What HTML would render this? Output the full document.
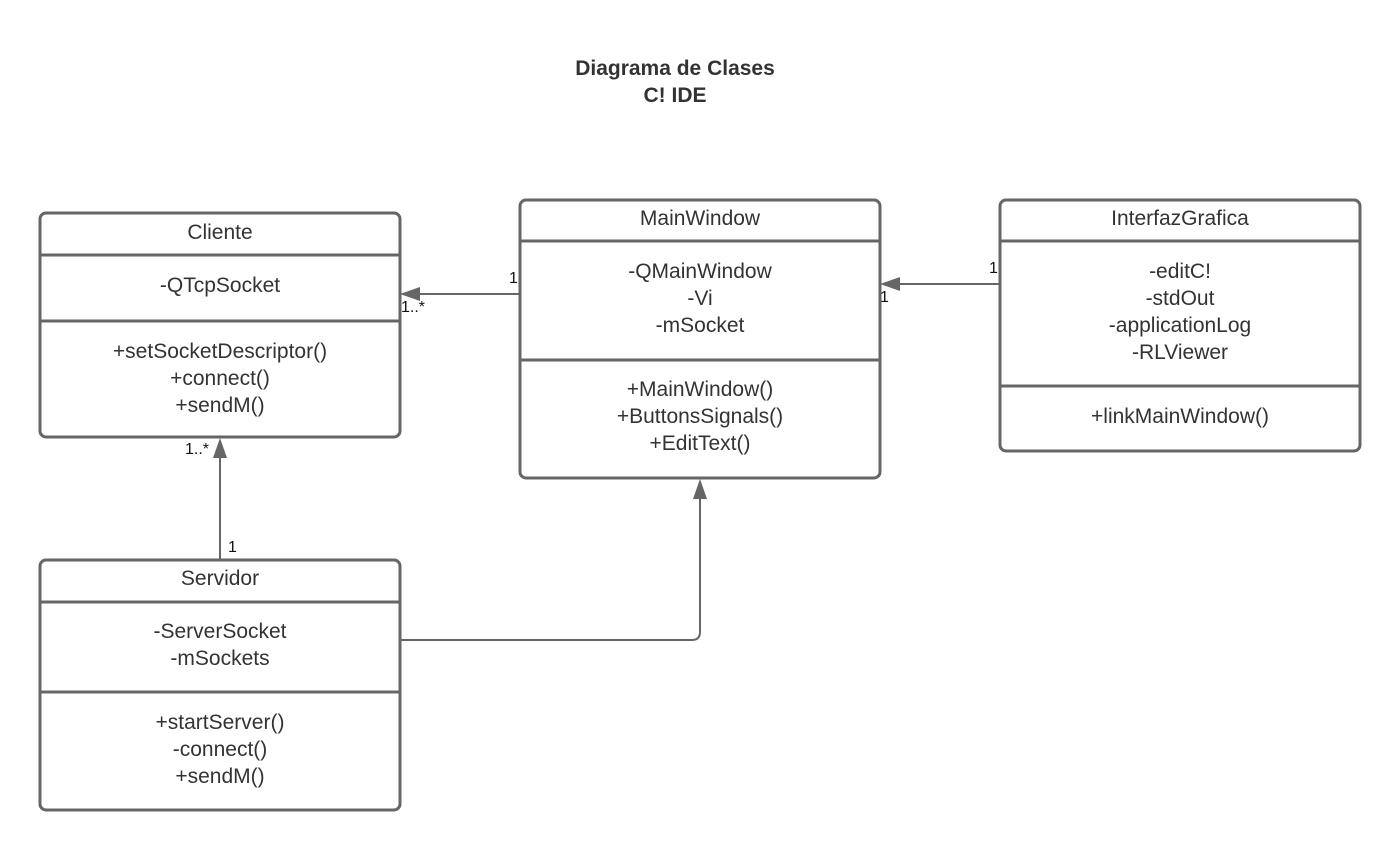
<!DOCTYPE html>
<html><head><meta charset="utf-8"><style>
html,body{margin:0;padding:0;background:#fff;}
svg{display:block;}
text{font-family:"Liberation Sans",sans-serif;fill:#333;}
.t{font-size:21px;text-anchor:middle;}
.s{font-size:16px;fill:#111;}
.b{fill:#fff;stroke:#666;stroke-width:3;}
.l{stroke:#666;stroke-width:3;}
.c{stroke:#666;stroke-width:2;fill:none;}
.a{fill:#666;}
</style></head><body>
<svg width="1400" height="851" viewBox="0 0 1400 851">
<text x="675" y="75" style="font-size:21px;font-weight:bold;text-anchor:middle">Diagrama de Clases</text>
<text x="675" y="102" style="font-size:21px;font-weight:bold;text-anchor:middle">C! IDE</text>

<line class="c" x1="520" y1="294" x2="415" y2="294"/>
<polygon class="a" points="400,294 420,287 420,301"/>
<line class="c" x1="1000" y1="284" x2="895" y2="284"/>
<polygon class="a" points="880,284 900,277 900,291"/>
<line class="c" x1="220" y1="560" x2="220" y2="455"/>
<polygon class="a" points="220,438 213,458 227,458"/>
<path class="c" d="M400 640 H692 Q700 640 700 632 V495"/>
<polygon class="a" points="700,479 693,499 707,499"/>

<text class="s" x="509" y="283">1</text>
<text class="s" x="401" y="312">1..*</text>
<text class="s" x="989" y="273">1</text>
<text class="s" x="880" y="302">1</text>
<text class="s" x="185" y="454">1..*</text>
<text class="s" x="228" y="552">1</text>

<rect class="b" x="40" y="213" width="360" height="224" rx="6"/>
<line class="l" x1="40" y1="255" x2="400" y2="255"/>
<line class="l" x1="40" y1="321" x2="400" y2="321"/>
<text class="t" x="220" y="239">Cliente</text>
<text class="t" x="220" y="292">-QTcpSocket</text>
<text class="t" x="220" y="358">+setSocketDescriptor()</text>
<text class="t" x="220" y="385">+connect()</text>
<text class="t" x="220" y="412">+sendM()</text>

<rect class="b" x="520" y="200" width="360" height="278" rx="6"/>
<line class="l" x1="520" y1="241" x2="880" y2="241"/>
<line class="l" x1="520" y1="360" x2="880" y2="360"/>
<text class="t" x="700" y="225">MainWindow</text>
<text class="t" x="700" y="278">-QMainWindow</text>
<text class="t" x="700" y="305">-Vi</text>
<text class="t" x="700" y="332">-mSocket</text>
<text class="t" x="700" y="396">+MainWindow()</text>
<text class="t" x="700" y="423">+ButtonsSignals()</text>
<text class="t" x="700" y="450">+EditText()</text>

<rect class="b" x="1000" y="200" width="360" height="251" rx="6"/>
<line class="l" x1="1000" y1="241" x2="1360" y2="241"/>
<line class="l" x1="1000" y1="386" x2="1360" y2="386"/>
<text class="t" x="1180" y="225">InterfazGrafica</text>
<text class="t" x="1180" y="278">-editC!</text>
<text class="t" x="1180" y="305">-stdOut</text>
<text class="t" x="1180" y="332">-applicationLog</text>
<text class="t" x="1180" y="359">-RLViewer</text>
<text class="t" x="1180" y="423">+linkMainWindow()</text>

<rect class="b" x="40" y="560" width="360" height="250" rx="6"/>
<line class="l" x1="40" y1="602" x2="400" y2="602"/>
<line class="l" x1="40" y1="692" x2="400" y2="692"/>
<text class="t" x="220" y="585">Servidor</text>
<text class="t" x="220" y="638">-ServerSocket</text>
<text class="t" x="220" y="665">-mSockets</text>
<text class="t" x="220" y="729">+startServer()</text>
<text class="t" x="220" y="756">-connect()</text>
<text class="t" x="220" y="783">+sendM()</text>
</svg>
</body></html>
